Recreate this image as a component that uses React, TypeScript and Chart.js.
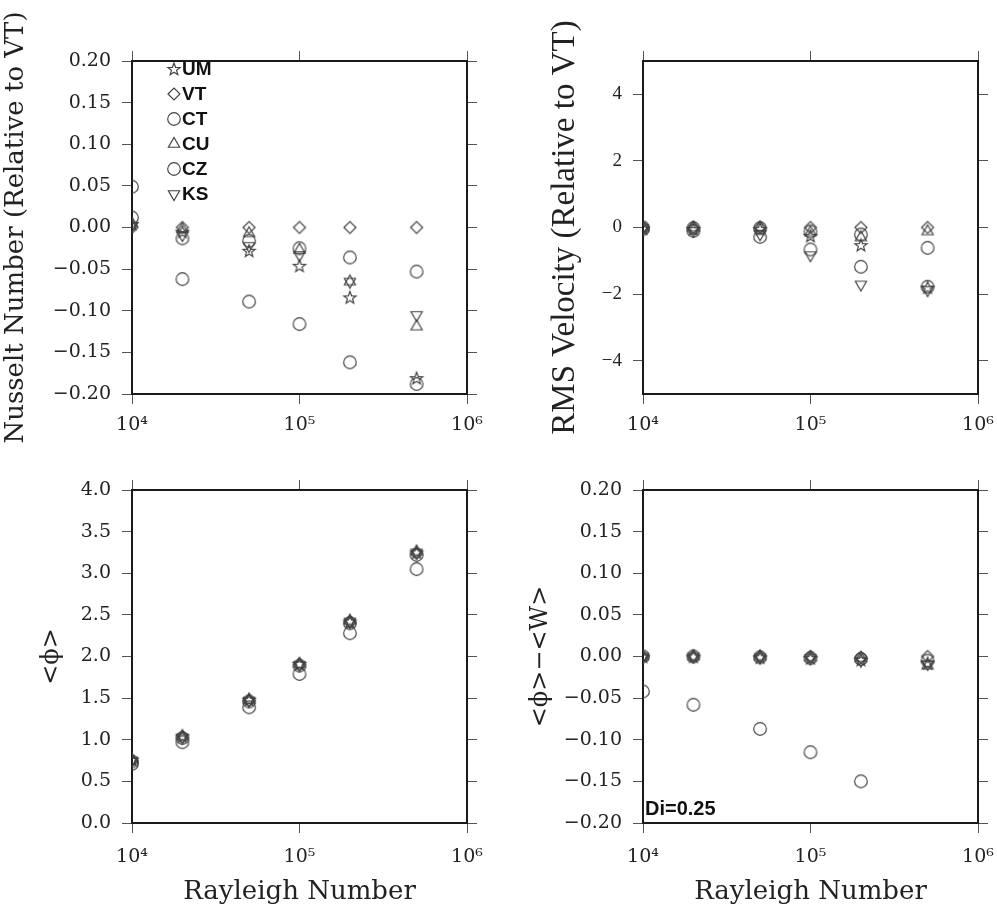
import React, { useEffect, useRef } from 'react';
import { Chart, registerables } from 'chart.js';

Chart.register(...registerables);

// ---------- data ----------
const rayleigh = [1e4, 2e4, 5e4, 1e5, 2e5, 5e5];
const seriesNames = ['UM', 'VT', 'CT', 'CU', 'CZ', 'KS'];
const seriesShapes = ['star', 'diamond', 'circle', 'triangle', 'circle', 'triangleDown'];

const xTickValues = [1e4, 1e5, 1e6];
const xTickLabels = ['10\u2074', '10\u2075', '10\u2076'];

// Nusselt number relative to VT
const nuUM = [0.004, -0.005, -0.028, -0.046, -0.084, -0.181];
const nuVT = [0, 0, 0, 0, 0, 0];
const nuCT = [0.049, -0.013, -0.016, -0.025, -0.036, -0.053];
const nuCU = [0.005, -0.002, -0.007, -0.027, -0.065, -0.119];
const nuCZ = [0.012, -0.062, -0.089, -0.116, -0.162, -0.188];
const nuKS = [0.002, -0.009, -0.022, -0.033, -0.065, -0.105];
const nuTicks = [-0.2, -0.15, -0.1, -0.05, 0, 0.05, 0.1, 0.15, 0.2];

// RMS velocity relative to VT
const vUM = [-0.03, -0.05, -0.05, -0.25, -0.53, -1.8];
const vVT = [0, 0, 0, 0, 0, 0];
const vCT = [0, -0.02, -0.02, -0.12, -0.21, -0.61];
const vCU = [0, 0, 0, -0.15, -0.3, -0.12];
const vCZ = [-0.05, -0.1, -0.28, -0.66, -1.18, -1.78];
const vKS = [-0.03, -0.1, -0.2, -0.83, -1.71, -1.88];
const vTicks = [-4, -2, 0, 2, 4];

// <phi>
const pUM = [0.76, 1.04, 1.48, 1.91, 2.42, 3.25];
const pVT = [0.75, 1.03, 1.47, 1.9, 2.41, 3.24];
const pCT = [0.74, 1.02, 1.46, 1.89, 2.4, 3.22];
const pCU = [0.76, 1.04, 1.48, 1.91, 2.43, 3.26];
const pCZ = [0.71, 0.97, 1.39, 1.79, 2.28, 3.05];
const pKS = [0.75, 1.03, 1.47, 1.9, 2.42, 3.25];
const pTicks = [0, 0.5, 1, 1.5, 2, 2.5, 3, 3.5, 4];

// <phi> - <W>
const dUM = [0, 0, -0.001, -0.002, -0.004, -0.008];
const dVT = [0, 0, 0, 0, -0.001, 0];
const dCT = [0, 0, -0.001, -0.002, -0.003, -0.005];
const dCU = [0, 0, 0, -0.001, -0.002, -0.011];
const dCZ = [-0.042, -0.058, -0.087, -0.115, -0.15, null];
const dKS = [0, 0, -0.001, -0.002, -0.005, -0.009];
const dTicks = [-0.2, -0.15, -0.1, -0.05, 0, 0.05, 0.1, 0.15, 0.2];

const noteText = 'Di=0.25';
const xTitle = 'Rayleigh Number';

// ---------- styling ----------
const SERIF = '"DejaVu Serif", serif';
const TIMES = '"Liberation Serif", serif';
const SANS = '"Liberation Sans", Arial, sans-serif';
const MARK = '#404040';

function makeMarker(shape: string): HTMLCanvasElement {
  const c = document.createElement('canvas');
  c.width = 18;
  c.height = 18;
  const ctx = c.getContext('2d')!;
  const cx = 9, cy = 9;
  ctx.strokeStyle = MARK;
  ctx.lineWidth = 1.15;
  ctx.beginPath();
  if (shape === 'circle') {
    ctx.arc(cx, cy, 6.3, 0, Math.PI * 2);
  } else if (shape === 'diamond') {
    ctx.moveTo(cx - 6, cy); ctx.lineTo(cx, cy - 6); ctx.lineTo(cx + 6, cy); ctx.lineTo(cx, cy + 6); ctx.closePath();
  } else if (shape === 'triangle' || shape === 'triangleDown') {
    const r = 6.5;
    const s = shape === 'triangle' ? 1 : -1;
    for (let k = 0; k < 3; k++) {
      const a = -Math.PI / 2 + k * (2 * Math.PI / 3);
      const px = cx + r * Math.cos(a);
      const py = cy + s * r * Math.sin(a);
      if (k === 0) ctx.moveTo(px, py); else ctx.lineTo(px, py);
    }
    ctx.closePath();
  } else if (shape === 'star') {
    const R = 6.5, rr = 2.7;
    for (let k = 0; k < 10; k++) {
      const a = -Math.PI / 2 + k * Math.PI / 5;
      const rad = k % 2 === 0 ? R : rr;
      const px = cx + rad * Math.cos(a);
      const py = cy + 0.5 + rad * Math.sin(a);
      if (k === 0) ctx.moveTo(px, py); else ctx.lineTo(px, py);
    }
    ctx.closePath();
  }
  ctx.stroke();
  return c;
}

function fmt(v: number, dec: number) {
  const s = Math.abs(v) < 1e-9 ? (0).toFixed(dec) : v.toFixed(dec);
  return s.replace('-', '\u2212');
}

type Panel = {
  key: string;
  canvas: { left: number; top: number; width: number; height: number };
  area: { l: number; t: number; r: number; b: number };
  series: (number | null)[][];
  yMin: number;
  yMax: number;
  yTicks: number[];
  dec: number;
  yTitle: string;
  yTitleFont: string;
  yTitleSize: number;
  yTitleCenter: number;
  yTickFont: string;
  xTickPad: number;
  xTitle: boolean;
  legend: boolean;
  note: boolean;
};

const panels: Panel[] = [
  {
    key: 'nu',
    canvas: { left: 0, top: 0, width: 498, height: 460 },
    area: { l: 132, t: 61, r: 467, b: 394 },
    series: [nuUM, nuVT, nuCT, nuCU, nuCZ, nuKS],
    yMin: -0.2, yMax: 0.2, yTicks: nuTicks, dec: 2,
    yTitle: 'Nusselt Number (Relative to VT)', yTitleFont: SERIF, yTitleSize: 26, yTitleCenter: 16,
    yTickFont: SERIF, xTickPad: 10, xTitle: false, legend: true, note: false,
  },
  {
    key: 'vel',
    canvas: { left: 498, top: 0, width: 530, height: 460 },
    area: { l: 643, t: 61, r: 978, b: 394 },
    series: [vUM, vVT, vCT, vCU, vCZ, vKS],
    yMin: -5, yMax: 5, yTicks: vTicks, dec: 0,
    yTitle: 'RMS Velocity (Relative to VT)', yTitleFont: TIMES, yTitleSize: 33, yTitleCenter: 565,
    yTickFont: TIMES, xTickPad: 10, xTitle: false, legend: false, note: false,
  },
  {
    key: 'phi',
    canvas: { left: 0, top: 460, width: 498, height: 455 },
    area: { l: 132, t: 490, r: 467, b: 823 },
    series: [pUM, pVT, pCT, pCU, pCZ, pKS],
    yMin: 0, yMax: 4, yTicks: pTicks, dec: 1,
    yTitle: '<\u03D5>', yTitleFont: SERIF, yTitleSize: 24, yTitleCenter: 52,
    yTickFont: SERIF, xTickPad: 13, xTitle: true, legend: false, note: false,
  },
  {
    key: 'diff',
    canvas: { left: 498, top: 460, width: 530, height: 455 },
    area: { l: 643, t: 490, r: 978, b: 823 },
    series: [dUM, dVT, dCT, dCU, dCZ, dKS],
    yMin: -0.2, yMax: 0.2, yTicks: dTicks, dec: 2,
    yTitle: '<\u03D5>\u2212<W>', yTitleFont: SERIF, yTitleSize: 24, yTitleCenter: 541,
    yTickFont: SERIF, xTickPad: 13, xTitle: true, legend: false, note: true,
  },
];

const legendPlugin = {
  id: 'insideLegend',
  afterDatasetsDraw(chart: any) {
    const { ctx, chartArea } = chart;
    ctx.save();
    chart.data.datasets.forEach((ds: any, i: number) => {
      const y = chartArea.top + 8 + i * 25;
      const img = ds.pointStyle as HTMLCanvasElement;
      ctx.drawImage(img, chartArea.left + 42 - img.width / 2, y - img.height / 2);
      ctx.font = 'bold 19px ' + SANS;
      ctx.fillStyle = '#111';
      ctx.textAlign = 'left';
      ctx.textBaseline = 'middle';
      ctx.fillText(ds.label, chartArea.left + 50, y + 1);
    });
    ctx.restore();
  },
};

const notePlugin = {
  id: 'noteText',
  afterDatasetsDraw(chart: any) {
    const { ctx, chartArea } = chart;
    ctx.save();
    ctx.font = 'bold 20px ' + SANS;
    ctx.fillStyle = '#111';
    ctx.textAlign = 'left';
    ctx.textBaseline = 'alphabetic';
    ctx.fillText(noteText, chartArea.left + 2, chartArea.bottom - 8);
    ctx.restore();
  },
};

function buildChart(canvas: HTMLCanvasElement, p: Panel) {
  const yW = p.area.l - p.canvas.left;
  const y2W = p.canvas.left + p.canvas.width - p.area.r;
  const x2H = p.area.t - p.canvas.top;
  const xH = p.canvas.top + p.canvas.height - p.area.b;

  const grid = { drawOnChartArea: false, drawTicks: true, tickLength: 10, color: '#555', lineWidth: 1 };
  const border = { display: true, color: '#1a1a1a', width: 2 };
  const setX = (scale: any) => { scale.ticks = xTickValues.map((v) => ({ value: v })); };
  const setY = (scale: any) => { scale.ticks = p.yTicks.map((v) => ({ value: v })); };

  const datasets = p.series.map((vals, i) => ({
    label: seriesNames[i],
    data: rayleigh.map((x, j) => ({ x, y: vals[j] })),
    pointStyle: makeMarker(seriesShapes[i]),
    pointRadius: 6,
    pointHoverRadius: 6,
    showLine: false,
    clip: 0,
  }));

  const plugins: any[] = [];
  if (p.legend) plugins.push(legendPlugin);
  if (p.note) plugins.push(notePlugin);

  return new Chart(canvas, {
    type: 'scatter',
    data: { datasets },
    plugins,
    options: {
      animation: false,
      responsive: false,
      maintainAspectRatio: false,
      events: [],
      layout: { padding: 0 },
      plugins: { legend: { display: false }, tooltip: { enabled: false } },
      scales: {
        x: {
          type: 'logarithmic', position: 'bottom', min: 1e4, max: 1e6,
          grid, border,
          afterBuildTicks: setX,
          afterFit: (s: any) => { s.height = xH; },
          ticks: {
            autoSkip: false, maxRotation: 0, padding: p.xTickPad, color: '#222',
            font: { family: SERIF, size: 19 },
            callback: (v: any) => { const k = xTickValues.indexOf(Number(v)); return k >= 0 ? xTickLabels[k] : ''; },
          },
          title: {
            display: p.xTitle, text: xTitle, color: '#222',
            font: { family: SERIF, size: 26, lineHeight: 1 },
            padding: { top: 0, bottom: 10 },
          },
        },
        x2: {
          type: 'logarithmic', position: 'top', min: 1e4, max: 1e6,
          grid, border,
          afterBuildTicks: setX,
          afterFit: (s: any) => { s.height = x2H; },
          ticks: { display: false },
        },
        y: {
          type: 'linear', position: 'left', min: p.yMin, max: p.yMax,
          grid, border,
          afterBuildTicks: setY,
          afterFit: (s: any) => { s.width = yW; },
          ticks: {
            autoSkip: false, padding: 11, color: '#222',
            font: { family: p.yTickFont, size: 19 },
            callback: (v: any) => fmt(Number(v), p.dec),
          },
          title: {
            display: true, text: p.yTitle, color: '#222',
            font: { family: p.yTitleFont, size: p.yTitleSize, lineHeight: 1 },
            padding: { top: p.yTitleCenter - p.canvas.left - p.yTitleSize / 2, bottom: 0 },
          },
        },
        y2: {
          type: 'linear', position: 'right', min: p.yMin, max: p.yMax,
          grid, border,
          afterBuildTicks: setY,
          afterFit: (s: any) => { s.width = y2W; },
          ticks: { display: false },
        },
      },
    } as any,
  });
}

function PanelChart({ p }: { p: Panel }) {
  const ref = useRef<HTMLCanvasElement | null>(null);
  useEffect(() => {
    if (!ref.current) return;
    const chart = buildChart(ref.current, p);
    return () => chart.destroy();
  }, [p]);
  return (
    <canvas
      ref={ref}
      width={p.canvas.width}
      height={p.canvas.height}
      style={{
        position: 'absolute',
        left: p.canvas.left,
        top: p.canvas.top,
        width: p.canvas.width,
        height: p.canvas.height,
      }}
    />
  );
}

export default function App() {
  return (
    <div style={{ position: 'absolute', left: 0, top: 0, width: 997, height: 915, background: '#fff', overflow: 'hidden' }}>
      {panels.map((p) => (
        <PanelChart key={p.key} p={p} />
      ))}
    </div>
  );
}
